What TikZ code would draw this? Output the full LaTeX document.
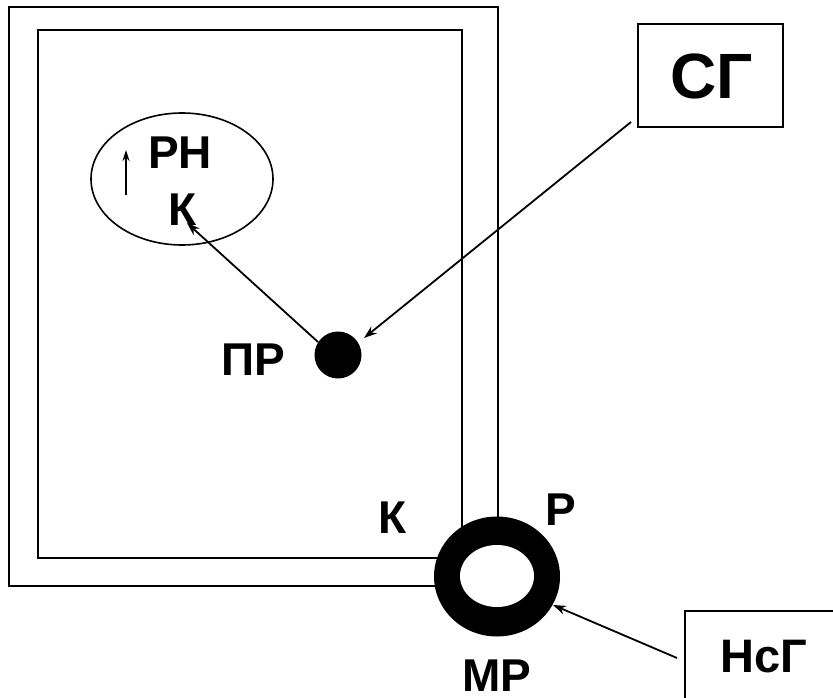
\documentclass[tikz,border=0pt]{standalone}
\usepackage{fontspec}
\setmainfont{Liberation Sans}
\usetikzlibrary{arrows.meta}
\tikzset{
  lbl/.style={font=\fontsize{46}{46}\selectfont\bfseries, inner sep=0pt, anchor=base},
  boxed/.style={draw, line width=2pt, inner sep=0pt},
  wall/.style={line width=2pt},
  conn/.style={line width=1.8pt, -{Stealth[length=13pt,width=9pt]}},
}
\begin{document}
\begin{tikzpicture}[x=1pt,y=-1pt]
\useasboundingbox (0,0) rectangle (833,698);
% walls
\draw[wall] (9,7) rectangle (498,586);
\draw[wall] (38,30) rectangle (462,558);
% ring
\fill[black] (497,576.5) ellipse [x radius=63, y radius=60];
\fill[white] (497,576) ellipse [x radius=37, y radius=31];
\coordinate (ring) at (497,576.5);
% ellipse
\draw[line width=1.6pt] (182,179) ellipse [x radius=91, y radius=66];
\coordinate (smallA) at (126,195);
\coordinate (smallB) at (126,150);
\draw[line width=1.6pt, -{Stealth[length=11pt,width=7pt]}] (smallA) -- (smallB);
% labels
\node[lbl] (rn) at (180,168) {РН};
\node[lbl] (k1) at (183,225) {К};
\node[lbl] (prl) at (253,375) {ПР};
\node[lbl] (k2) at (393,533) {К};
\node[lbl] (r) at (561,525) {Р};
\node[lbl] (mr) at (497,691) {МР};
% dot
\node[circle, fill=black, minimum size=47pt, inner sep=0pt] (dot) at (338,355) {};
% boxes
\node[boxed, minimum width=145pt, minimum height=103pt] (sgbox) at (710.5,75.5) {};
\node[lbl, font=\fontsize{64}{64}\selectfont\bfseries] (sg) at (712,99) {СГ};
\node[boxed, minimum width=160pt, minimum height=100pt, anchor=north west] (nsgbox) at (684,610) {};
\node[lbl, font=\fontsize{47}{47}\selectfont\bfseries] (nsg) at (764,672) {НсГ};
% connectors
\coordinate (sgstart) at (631,122);
\coordinate (sgtip) at (364,338);
\draw[conn] (sgstart) -- (sgtip);
\coordinate (prstart) at (318,342);
\coordinate (ktip) at (187,223);
\draw[conn] (prstart) -- (ktip);
\coordinate (nsgstart) at (677,658);
\coordinate (ringtip) at (553,605);
\draw[conn] (nsgstart) -- (ringtip);
\end{tikzpicture}
\end{document}
